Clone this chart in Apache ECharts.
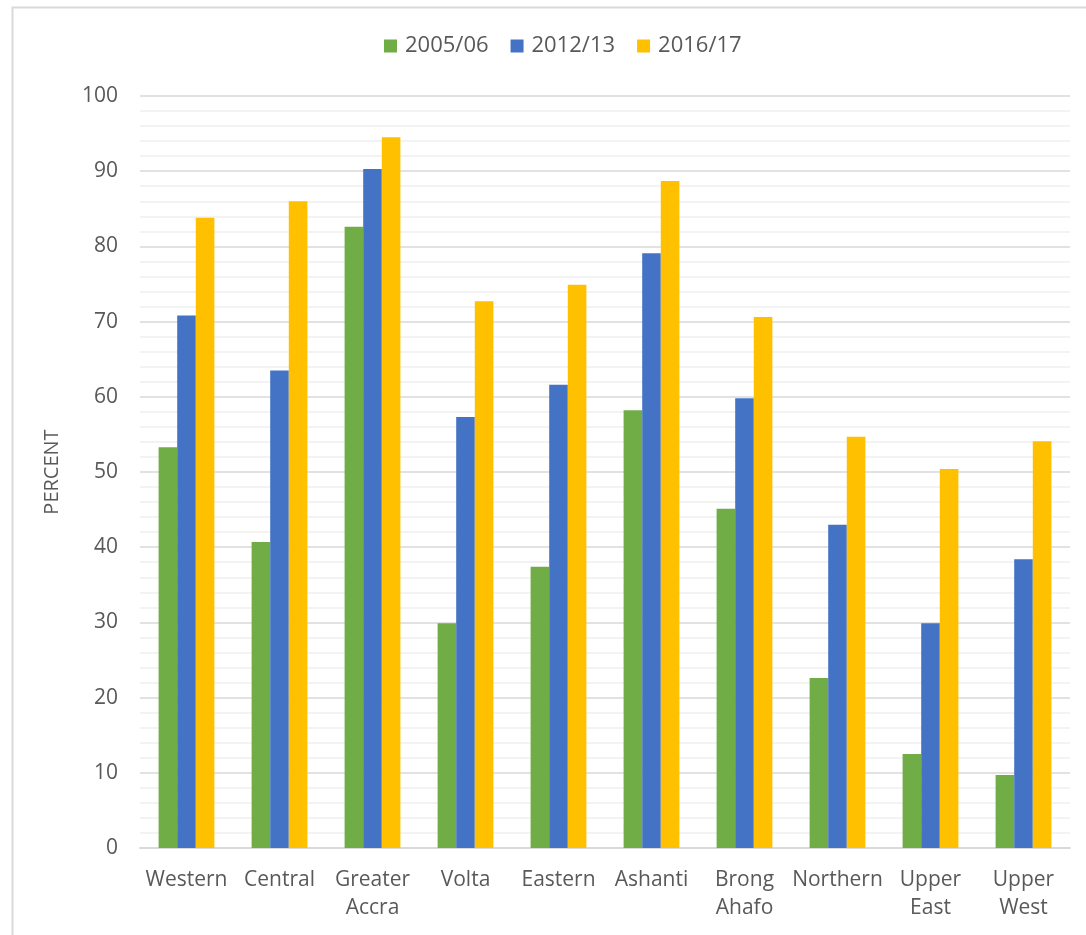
<!DOCTYPE html>
<html>
<head>
<meta charset="utf-8">
<script src="https://cdn.jsdelivr.net/npm/echarts@6/dist/echarts.min.js"></script>
<style>
  html, body { margin: 0; padding: 0; background: #fff; }
  #chart { width: 1086px; height: 935px; }
</style>
</head>
<body>
<div id="chart"></div>
<script>
const regions = ["Western", "Central", "Greater\nAccra", "Volta", "Eastern", "Ashanti",
  "Brong\nAhafo", "Northern", "Upper\nEast", "Upper\nWest"];
const years = ["2005/06", "2012/13", "2016/17"];
const v2005 = [53.3, 40.7, 82.6, 29.9, 37.4, 58.2, 45.1, 22.6, 12.5, 9.7];
const v2012 = [70.8, 63.5, 90.3, 57.3, 61.6, 79.1, 59.8, 43.0, 29.9, 38.4];
const v2016 = [83.8, 86.0, 94.5, 72.7, 74.9, 88.7, 70.6, 54.7, 50.4, 54.1];
const colors = ["#70AD47", "#4472C4", "#FFC000"];

const chart = echarts.init(document.getElementById("chart"));
const font = "'Open Sans', 'Liberation Sans', sans-serif";

chart.setOption({
  animation: false,
  textStyle: { fontFamily: font },
  color: colors,
  graphic: [{
    type: "rect",
    left: 10, top: 5,
    shape: { width: 1200, height: 1000 },
    style: { fill: "none", stroke: "#d9d9d9", lineWidth: 2 },
    silent: true
  }],
  legend: {
    top: 30,
    left: 379,
    itemWidth: 13,
    itemHeight: 13,
    itemGap: 22,
    icon: "rect",
    textStyle: { color: "#595959", fontSize: 22, fontFamily: font, padding: [0, 0, 0, 3] }
  },
  grid: { left: 140, right: 16, top: 96, bottom: 87 },
  xAxis: {
    type: "category",
    data: regions,
    axisLine: { lineStyle: { color: "#d9d9d9", width: 2 } },
    axisTick: { show: false },
    axisLabel: { color: "#595959", fontSize: 21, lineHeight: 28, margin: 18, interval: 0 }
  },
  yAxis: {
    type: "value",
    min: 0, max: 100, interval: 10,
    name: "PERCENT",
    nameLocation: "middle",
    nameGap: 78,
    nameTextStyle: { color: "#595959", fontSize: 20 },
    axisLine: { show: false },
    axisTick: { show: false },
    axisLabel: { color: "#595959", fontSize: 21, margin: 22 },
    splitLine: { lineStyle: { color: "#d9d9d9", width: 1.5 } },
    minorTick: { show: false, splitNumber: 5 },
    minorSplitLine: { show: true, lineStyle: { color: "#f0f0f0", width: 1.5 } }
  },
  series: [
    { name: years[0], type: "bar", data: v2005, barGap: "0%", barCategoryGap: "40%" },
    { name: years[1], type: "bar", data: v2012, barGap: "0%", barCategoryGap: "40%" },
    { name: years[2], type: "bar", data: v2016, barGap: "0%", barCategoryGap: "40%" }
  ]
});
</script>
</body>
</html>
